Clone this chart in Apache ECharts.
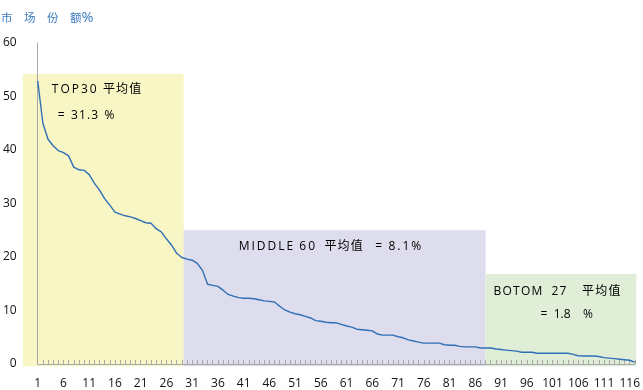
<!DOCTYPE html>
<html><head><meta charset="utf-8">
<script src="https://cdn.jsdelivr.net/npm/echarts@6/dist/echarts.min.js"></script>
<style>html,body{margin:0;padding:0;background:#fff}#c{width:643px;height:390px}</style>
</head><body><div id="c"></div>
<script>
// x categories: company rank 1..117
const categories = [];
for (let i = 1; i <= 117; i++) categories.push(String(i));

// market share (%) per rank
const shareValues = [
  52.9, 45.0, 42.0, 40.8, 39.9, 39.5, 38.9, 36.8, 36.3, 36.2,
  35.4, 33.8, 32.5, 30.9, 29.7, 28.4, 28.0, 27.7, 27.5, 27.2,
  26.8, 26.4, 26.3, 25.3, 24.7, 23.4, 22.2, 20.7, 19.9, 19.6,
  19.4, 18.8, 17.5, 14.9, 14.7, 14.5, 13.8, 13.0, 12.7, 12.4,
  12.3, 12.3, 12.2, 12.0, 11.8, 11.7, 11.6, 10.8, 10.1, 9.7,
  9.4, 9.2, 8.9, 8.6, 8.1, 8.0, 7.8, 7.7, 7.7, 7.4,
  7.1, 6.9, 6.5, 6.4, 6.3, 6.2, 5.6, 5.4, 5.4, 5.4,
  5.1, 4.9, 4.5, 4.3, 4.1, 3.9, 3.9, 3.9, 3.9, 3.6,
  3.5, 3.5, 3.3, 3.2, 3.2, 3.2, 3.0, 3.0, 3.0, 2.8,
  2.7, 2.6, 2.5, 2.4, 2.2, 2.2, 2.2, 2.0, 2.0, 2.0,
  2.0, 2.0, 2.0, 2.0, 1.8, 1.55, 1.5, 1.5, 1.5, 1.4,
  1.2, 1.1, 1.0, 0.9, 0.8, 0.7, 0.3
];

// group bands (in rank units / share units)
const bandStart = [-1.9, 29.35, 88.0];
const bandEnd = [29.35, 88.0, 117.3];
const bandTop = [54.2, 25.0, 16.8];
const T = '\u2009', H = '\u200A';
function sp(s, gap) { return s.split('').join(gap); }
const bandTexts = [
  [sp('TOP30', T) + '  ' + sp('平均值', H), '=  ' + sp('31.3', H) + '  %'],
  [sp('MIDDLE', T) + '  ' + sp('60', T) + '   ' + sp('平均值', H) + '    =  ' + sp('8.1%', T)],
  [sp('BOTOM', H) + '   ' + sp('27', H) + '     ' + sp('平均值', H), '=  1.8    %']
];
const yTicks = [0, 10, 20, 30, 40, 50, 60];

const bandColors = ['#f8f6c4', '#dddded', '#e0eed8'];
const bandTextOffsets = [[[29, 16], [35, 42]], [[55, 16]], [[8, 17], [55, 40]]];
const FONT = "'Open Sans', 'Noto Sans CJK SC', sans-serif";

const bandData = bandStart.map((s, i) => [s, bandEnd[i], bandTop[i]]);

const chart = echarts.init(document.getElementById('c'), null, {renderer: 'canvas'});
chart.setOption({
  animation: false,
  backgroundColor: '#fff',
  title: {
    text: '市　场　份　额{p|%}',
    left: 1, top: 11, padding: 0,
    textStyle: {
      color: '#3a7bbf', fontSize: 11.5, fontWeight: 'normal', fontFamily: FONT,
      rich: {p: {fontSize: 14.5, color: '#3a7bbf', fontFamily: FONT}}
    }
  },
  grid: {left: 37, right: 7.6, top: 43, bottom: 26, containLabel: false},
  xAxis: [{
    type: 'category',
    data: categories,
    boundaryGap: false,
    z: 5,
    axisLine: {lineStyle: {color: '#a8a8a8', width: 1}},
    axisTick: {show: true, inside: true, length: 4, interval: 0, lineStyle: {color: '#a8a8a8'}},
    axisLabel: {interval: 4, color: '#111', fontSize: 12, fontFamily: FONT, margin: 14},
    splitLine: {show: false}
  }, {
    type: 'value', min: 1, max: 117, show: false
  }],
  yAxis: {
    type: 'value', min: yTicks[0], max: yTicks[yTicks.length - 1], interval: 10,
    z: 5,
    axisLine: {show: true, lineStyle: {color: '#a8a8a8', width: 1}},
    axisTick: {show: false},
    axisLabel: {color: '#111', fontSize: 12, fontFamily: FONT, margin: 21},
    splitLine: {show: false}
  },
  series: [{
    type: 'custom',
    xAxisIndex: 1,
    yAxisIndex: 0,
    z: 1,
    clip: false,
    silent: true,
    data: bandData,
    renderItem: function (params, api) {
      const i = params.dataIndex;
      const p0 = api.coord([api.value(0), api.value(2)]);
      const p1 = api.coord([api.value(1), -0.4]);
      const children = [{
        type: 'rect',
        shape: {x: p0[0], y: p0[1], width: p1[0] - p0[0], height: p1[1] - p0[1]},
        style: {fill: bandColors[i]}
      }];
      bandTexts[i].forEach(function (t, k) {
        const off = bandTextOffsets[i][k];
        children.push({
          type: 'text',
          style: {
            text: t, x: p0[0] + off[0], y: p0[1] + off[1],
            fill: '#000', fontSize: 12, fontFamily: FONT,
            align: 'left', verticalAlign: 'middle'
          }
        });
      });
      return {type: 'group', children: children};
    }
  }, {
    type: 'line',
    data: shareValues,
    z: 6,
    showSymbol: false,
    symbol: 'none',
    lineStyle: {color: '#2f6fb6', width: 1.4}
  }]
});
</script>
</body></html>
